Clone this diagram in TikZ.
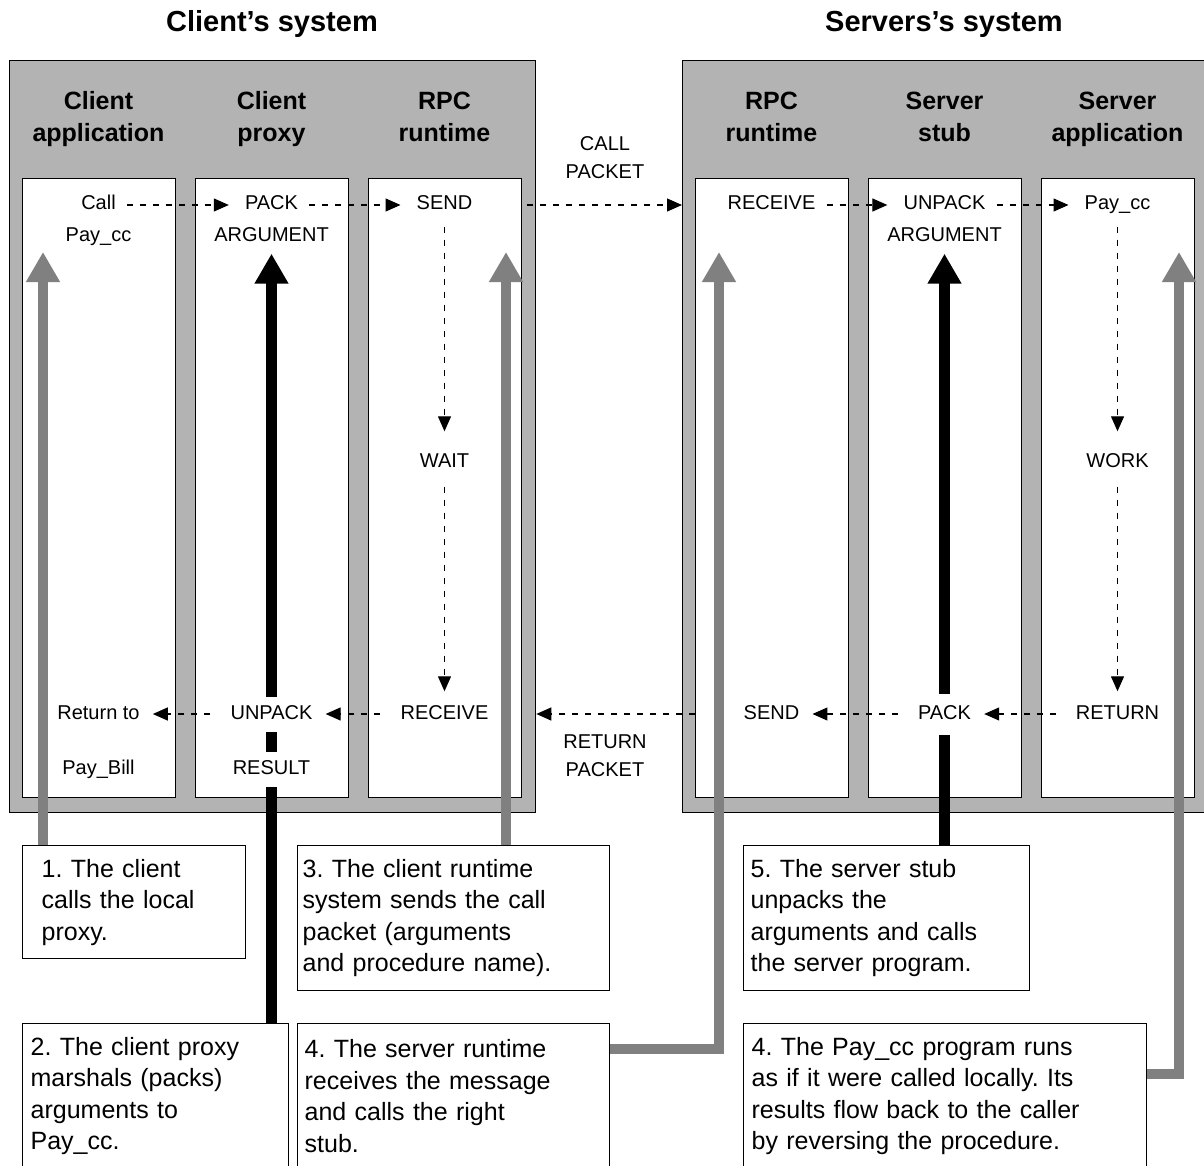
\documentclass[tikz,border=0pt]{standalone}
\usepackage{fontspec}
\setmainfont{Liberation Sans}
\usetikzlibrary{arrows.meta}
\pgfdeclarelayer{bg}
\pgfdeclarelayer{mid}
\pgfsetlayers{bg,mid,main}
\definecolor{panelgray}{HTML}{B3B3B3}
\definecolor{flowgray}{HTML}{808080}
\frenchspacing

\begin{document}
\begin{tikzpicture}[x=1pt,y=-1pt,
  title/.style={font=\fontsize{29}{34}\selectfont\bfseries},
  colhead/.style={font=\fontsize{25}{32}\selectfont\bfseries, align=center},
  system/.style={draw, line width=1.3pt, fill=panelgray, anchor=north west, inner sep=0pt},
  lane/.style={draw, line width=1.3pt, fill=white, anchor=north west, inner sep=0pt,
    minimum width=153pt, minimum height=619pt},
  lbl/.style={font=\fontsize{20}{24}\selectfont, inner sep=0pt, text height=14.5pt, text depth=4.5pt},
  mask/.style={lbl, fill=white, inner ysep=8pt},
  pkt/.style={font=\fontsize{20}{28}\selectfont, align=center},
  flow/.style={dash pattern=on 6pt off 7pt, line width=1.2pt, -{Triangle[length=15pt,width=13pt]}},
  fwd/.style={shorten <=11pt, shorten >=16pt},
  back/.style={shorten <=20pt, shorten >=13pt},
  note/.style={draw, line width=1.3pt, fill=white, anchor=north west, align=left,
    font=\fontsize{25}{31.5}\selectfont, inner ysep=0pt},
  grayflow/.style={line width=10pt, draw=flowgray, -{Triangle[length=30pt,width=32pt]}},
  blackflow/.style={line width=11pt, draw=black, -{Triangle[length=30pt,width=32pt]}}
]
\useasboundingbox (0,0) rectangle (1204,1166);

% system titles
\node[title] (ctitle) at (272,24) {Client's system};
\node[title] (stitle) at (944,24) {Servers's system};

% system panels and their lanes
\begin{pgfonlayer}{bg}
  \node[system, minimum width=526pt, minimum height=752pt] (csys) at (9,60) {};
  \node[system, minimum width=525pt, minimum height=752pt] (ssys) at (682,60) {};
  \node[lane] (cl1) at (22,178) {};
  \node[lane] (cl2) at (195,178) {};
  \node[lane] (cl3) at (368,178) {};
  \node[lane] (sl1) at (695,178) {};
  \node[lane] (sl2) at (868,178) {};
  \node[lane] (sl3) at (1041,178) {};
\end{pgfonlayer}

% lane headings (struts keep every heading the same height)
\node[colhead] (ch1) at (98.5,119.5) {Client\strut\\application\strut};
\node[colhead] (ch2) at (271.5,119.5) {Client\strut\\proxy\strut};
\node[colhead] (ch3) at (444.5,119.5) {RPC\strut\\runtime\strut};
\node[colhead] (sh1) at (771.5,119.5) {RPC\strut\\runtime\strut};
\node[colhead] (sh2) at (944.5,119.5) {Server\strut\\stub\strut};
\node[colhead] (sh3) at (1117.5,119.5) {Server\strut\\application\strut};

% client lanes
\node[lbl] (call) at (98.5,205) {Call};
\node[lbl] (paycc) at (98.5,237) {Pay\_cc};
\node[lbl] (retto) at (98.5,714) {Return to};
\node[lbl] (paybill) at (98.5,769) {Pay\_Bill};
\node[lbl] (cpack) at (271.5,205) {PACK};
\node[lbl] (carg) at (271.5,237) {ARGUMENT};
\node[mask] (cunpack) at (271.5,714) {UNPACK};
\node[mask] (cresult) at (271.5,769) {RESULT};
\node[lbl] (csend) at (444.5,205) {SEND};
\node[lbl] (cwait) at (444.5,462) {WAIT};
\node[lbl] (crecv) at (444.5,714) {RECEIVE};

% server lanes
\node[lbl] (srecv) at (771.5,205) {RECEIVE};
\node[lbl] (ssend) at (771.5,714) {SEND};
\node[lbl] (sunpack) at (944.5,205) {UNPACK};
\node[lbl] (sarg) at (944.5,237) {ARGUMENT};
\node[mask, inner ysep=11pt] (spack) at (944.5,714) {PACK};
\node[lbl] (spaycc) at (1117.5,205) {Pay\_cc};
\node[lbl] (swork) at (1117.5,462) {WORK};
\node[lbl] (sreturn) at (1117.5,714) {RETURN};

% packet captions
\node[pkt] (callpkt) at (605,158) {CALL\\PACKET};
\node[pkt] (retpkt) at (605,756) {RETURN\\PACKET};

% explanatory notes
\node[note, inner xsep=19pt, text width=185pt, minimum height=113pt] (note1) at (22,845)
  {1. The client\\calls the local\\proxy.};
\node[note, inner xsep=5pt, text width=302pt, minimum height=145pt] (note3) at (297,845)
  {3. The client runtime\\system sends the call\\packet (arguments\\and procedure name).};
\node[note, inner xsep=7pt, text width=272pt, minimum height=145pt] (note5) at (743,845)
  {5. The server stub\\unpacks the\\arguments and calls\\the server program.};
\node[note, inner xsep=8pt, text width=250pt, minimum height=145pt] (note2) at (22,1023)
  {2. The client proxy\\marshals (packs)\\arguments to\\Pay\_cc.};
\node[note, inner xsep=7pt, text width=298pt, minimum height=145pt] (note4) at (297,1023)
  {4. The server runtime\\receives the message\\and calls the right\\stub.};
\node[note, inner xsep=8pt, text width=387pt, minimum height=145pt] (note4b) at (743,1023)
  {4. The Pay\_cc program runs\\as if it were called locally. Its\\results flow back to the caller\\by reversing the procedure.};

% call path
\draw[flow, fwd] (call) -- (cpack);
\draw[flow, fwd] (cpack) -- (csend);
\draw[flow, shorten <=5pt] (cl3.east |- csend) -- (ssys.west |- csend);
\draw[flow, fwd] (srecv) -- (sunpack);
\draw[flow, fwd] (sunpack) -- (spaycc);
\draw[flow, shorten <=12pt, shorten >=21pt] (csend) -- (cwait);
\draw[flow, shorten <=15pt, shorten >=13pt] (cwait) -- (crecv);
\draw[flow, shorten <=12pt, shorten >=21pt] (spaycc) -- (swork);
\draw[flow, shorten <=15pt, shorten >=13pt] (swork) -- (sreturn);

% return path
\draw[flow, back] (sreturn) -- (spack);
\draw[flow, back] (spack) -- (ssend);
\draw[flow] (sl1.west |- ssend) -- (csys.east |- ssend);
\draw[flow, back] (crecv) -- (cunpack);
\draw[flow, back] (cunpack) -- (retto);

% step arrows behind the labels
\begin{pgfonlayer}{mid}
  \coordinate (g1) at (43,252);
  \coordinate (g2) at (506,252);
  \coordinate (g3) at (719,252);
  \coordinate (g4) at (1179,252);
  \coordinate (j3) at (719,1049);
  \coordinate (j4) at (1179,1074);
  \draw[grayflow] (g1 |- note1.north) -- (g1);
  \draw[grayflow] (g2 |- note3.north) -- (g2);
  \draw[grayflow] (note4.east |- j3) -- (j3) -- (g3);
  \draw[grayflow] (note4b.east |- j4) -- (j4) -- (g4);
  \draw[blackflow, shorten >=7pt] (carg.south |- note2.north) -- (carg.south);
  \draw[blackflow, shorten >=7pt] (sarg.south |- note5.north) -- (sarg.south);
\end{pgfonlayer}
\end{tikzpicture}
\end{document}
